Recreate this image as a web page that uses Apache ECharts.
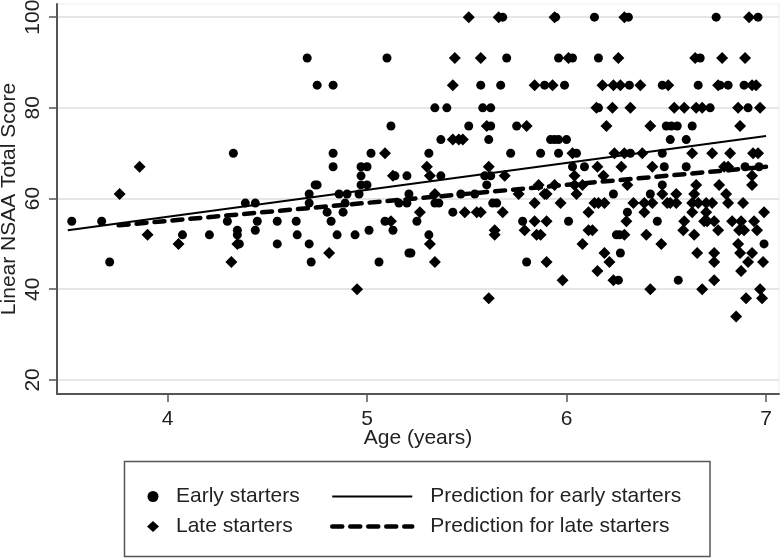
<!DOCTYPE html>
<html><head><meta charset="utf-8">
<style>html,body{margin:0;padding:0;background:#fff}#c{width:780px;height:559px}</style>
<script src="https://cdn.jsdelivr.net/npm/echarts@6/dist/echarts.min.js"></script>
</head><body><div id="c"></div>
<script>
const xTicks = [4, 5, 6, 7];
const yTicks = [20, 40, 60, 80, 100];
// [score, [ages at that score]]
const earlyRows = [
 [100,[5.68,5.945,6.14,6.31,6.75,6.96]],
 [91,[4.70,5.10,5.70,5.96,6.03,6.16,6.67]],
 [85,[4.75,4.83,5.57,5.67,5.89,5.99,6.315,6.48,6.66,6.77,6.81,6.89]],
 [80,[5.34,5.40,5.58,5.62,6.16,6.72,6.91]],
 [76,[5.12,5.51,5.62,5.75,6.50,6.525,6.555,6.63]],
 [73,[5.37,5.61,5.92,5.94,5.96,6.00,6.52,6.60]],
 [70,[4.33,4.83,5.02,5.31,5.72,5.87,5.96,6.05,6.32,6.48]],
 [67,[4.83,4.97,5.00,6.03,6.09,6.49,6.60,6.895,6.965]],
 [65,[4.97,5.14,5.20,5.37,5.59,5.62]],
 [63,[4.74,4.75,4.97,5.00,5.60,6.48]],
 [61,[4.71,4.86,4.90,4.96,5.21,5.47,5.54,6.235,6.42]],
 [59,[4.39,4.44,4.71,4.89,5.16,5.20,5.34,5.36,5.63,5.65]],
 [57,[4.80,4.88,5.43,6.305]],
 [55,[3.52,3.67,4.30,4.45,4.55,4.645,4.82,5.09,5.25,5.78,6.01,6.455]],
 [53,[4.35,4.44,5.01,5.13]],
 [52,[4.075,4.21,4.35,4.65,4.85,4.94,5.31,6.25,6.265]],
 [50,[4.36,4.55,4.71,6.99]],
 [48,[5.21,5.22,6.27]],
 [46,[3.71,4.72,5.06,5.80]],
 [42,[6.26,6.56]]
];
const lateRows = [
 [100,[5.51,5.66,5.94,6.29,6.915]],
 [91,[5.44,5.57,6.01,6.26,6.645,6.78,6.895]],
 [85,[5.43,5.84,5.93,6.18,6.235,6.27,6.37,6.51,6.76,6.93,6.95]],
 [80,[6.15,6.23,6.32,6.54,6.59,6.65,6.68,6.86,6.97]],
 [76,[5.60,5.80,6.20,6.42,6.87]],
 [73,[5.43,5.46,5.48]],
 [70,[5.09,6.03,6.24,6.29,6.38,6.63,6.73,6.82,6.935,6.96]],
 [67,[3.86,5.30,5.61,6.155,6.275,6.43,6.79,6.81]],
 [65,[5.13,5.315,5.69,6.04,6.185,6.93]],
 [63,[5.86,5.94,6.04,6.08,6.305,6.65,6.765,6.93]],
 [61,[3.76,5.34,5.76,5.89,5.90,6.05,6.48,6.55,6.64,6.80]],
 [59,[5.84,5.97,6.14,6.16,6.19,6.335,6.39,6.43,6.505,6.52,6.55,6.63,6.66,6.70,6.73,6.81,6.885]],
 [57,[5.265,5.49,5.55,5.57,5.68,6.11,6.39,6.63,6.70,6.99]],
 [55,[5.12,5.84,5.90,6.30,6.59,6.69,6.705,6.74,6.83,6.875,6.94]],
 [53,[5.64,5.79,6.11,6.13,6.585,6.76,6.865,6.89,6.955]],
 [52,[3.90,5.64,5.85,5.87,6.29,6.40,6.64]],
 [50,[4.055,4.35,5.315,6.08,6.475,6.86]],
 [48,[4.81,6.19,6.655,6.74,6.87,6.93]],
 [46,[4.32,5.34,5.90,6.215,6.74,6.91,6.985]],
 [44,[6.155,6.875]],
 [42,[5.98,6.235,6.74]],
 [40,[4.95,6.42,6.68,6.97]],
 [38,[5.61,6.90,6.98]],
 [34,[6.85]]
];
const earlyPrediction = [[3.5,53],[7,73.8]];
const latePrediction = [[3.755,54.1],[7,67]];

const flatten = rows => rows.flatMap(([s, ages]) => ages.map(a => [a, s]));
const font = 'Liberation Sans';
const axisCommon = {
  type:'value', scale:false,
  nameMoveOverlap:false,
  axisLine:{show:true,onZero:false,lineStyle:{color:'#555',width:2}},
  axisTick:{show:true,length:8,lineStyle:{color:'#555',width:1.5}}
};
const chart = echarts.init(document.getElementById('c'),null,{renderer:'canvas'});
chart.setOption({
  animation:false,
  backgroundColor:'#fff',
  grid:{left:57,right:1,top:4,bottom:165,show:true,borderColor:'#eee',borderWidth:1,outerBoundsMode:'none'},
  xAxis:Object.assign({},axisCommon,{
    min:3.446,max:7.065,name:'Age (years)',nameLocation:'middle',nameGap:33.5,
    nameTextStyle:{fontFamily:font,fontSize:21,color:'#222'},
    axisTick:Object.assign({},axisCommon.axisTick,{customValues:xTicks}),
    axisLabel:{customValues:xTicks,fontFamily:font,fontSize:21,color:'#222',margin:15},
    splitLine:{show:false}
  }),
  yAxis:Object.assign({},axisCommon,{
    min:16.9,max:102.9,name:'Linear NSAA Total Score',nameLocation:'middle',nameGap:37,
    nameTextStyle:{fontFamily:font,fontSize:21,color:'#222'},
    axisTick:Object.assign({},axisCommon.axisTick,{customValues:yTicks}),
    axisLabel:{customValues:yTicks,fontFamily:font,fontSize:21,color:'#222',rotate:90,margin:13},
    splitLine:{show:true,lineStyle:{color:'#e6e6e6',width:2}}
  }),
  legend:[
    {data:[{name:'Early starters',icon:'circle',itemStyle:{color:'#000',opacity:1}},{name:'Late starters',icon:'diamond',itemStyle:{color:'#000',opacity:1}}],
     orient:'vertical',left:147,top:486,padding:0,itemWidth:12,itemHeight:11,itemGap:9,
     textStyle:{fontFamily:font,fontSize:21,color:'#222',padding:[0,0,0,12]},selectedMode:false},
    {data:[
       {name:'Prediction for early starters',lineStyle:{color:'#000',width:2}},
       {name:'Prediction for late starters',lineStyle:{color:'#000',width:4.5,type:[10,8],cap:'round'}}
     ],
     orient:'vertical',left:330,top:486,padding:0,itemWidth:80,itemHeight:20,itemGap:9,
     itemStyle:{opacity:0},
     textStyle:{fontFamily:font,fontSize:21,color:'#222',padding:[0,0,0,13]},selectedMode:false}
  ],
  graphic:[{type:'rect',silent:true,z:-1,shape:{x:124.5,y:461.5,width:585.5,height:95},
    style:{fill:'#fff',stroke:'#555',lineWidth:1.5}}],
  series:[
    {name:'Early starters',type:'scatter',symbol:'circle',symbolSize:9,itemStyle:{color:'#000',opacity:1},data:flatten(earlyRows),z:3},
    {name:'Late starters',type:'scatter',symbol:'diamond',symbolSize:12,itemStyle:{color:'#000',opacity:1},data:flatten(lateRows),z:3},
    {name:'Prediction for early starters',type:'line',showSymbol:false,symbol:'none',lineStyle:{color:'#000',width:2},data:earlyPrediction,z:4},
    {name:'Prediction for late starters',type:'line',showSymbol:false,symbol:'none',lineStyle:{color:'#000',width:4.5,type:[10,8],cap:'round'},data:latePrediction,z:4}
  ]
});
</script></body></html>
